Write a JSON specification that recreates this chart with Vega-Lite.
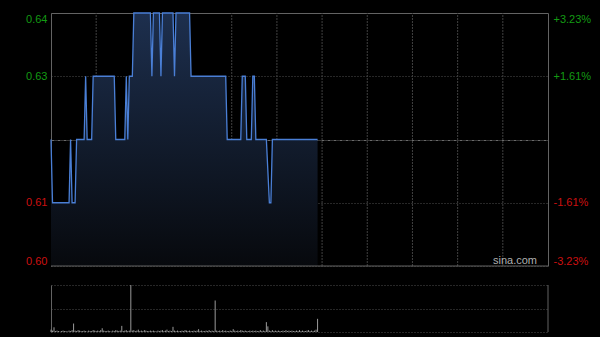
{
  "$schema": "https://vega.github.io/schema/vega-lite/v6.json",
  "width": 497,
  "height": 319,
  "autosize": {"type": "none"},
  "padding": {"left": 51, "top": 13, "right": 52, "bottom": 5},
  "background": "#000000",
  "config": {
    "view": {"stroke": null},
    "font": "Liberation Sans",
    "axis": {"labelFont": "Liberation Sans", "labelFontSize": 11}
  },
  "datasets": {
    "grid": [{"t": 30}, {"t": 60}, {"t": 90}, {"t": 120}, {"t": 150}, {"t": 180}, {"t": 210}, {"t": 240}, {"t": 270}, {"t": 300}],
    "price": [
      {"t": 0, "p": 0.62}, {"t": 1, "p": 0.61}, {"t": 12, "p": 0.61}, {"t": 13, "p": 0.62}, {"t": 14, "p": 0.61},
      {"t": 16, "p": 0.61}, {"t": 17, "p": 0.62}, {"t": 22, "p": 0.62}, {"t": 23, "p": 0.63}, {"t": 24, "p": 0.62},
      {"t": 27, "p": 0.62}, {"t": 28, "p": 0.63}, {"t": 42, "p": 0.63}, {"t": 43, "p": 0.62}, {"t": 49, "p": 0.62},
      {"t": 50, "p": 0.63}, {"t": 51, "p": 0.62}, {"t": 52, "p": 0.63}, {"t": 54, "p": 0.63}, {"t": 55, "p": 0.64},
      {"t": 66, "p": 0.64}, {"t": 67, "p": 0.63}, {"t": 68, "p": 0.64}, {"t": 72, "p": 0.64}, {"t": 73, "p": 0.63},
      {"t": 74, "p": 0.64}, {"t": 81, "p": 0.64}, {"t": 82, "p": 0.63}, {"t": 83, "p": 0.64}, {"t": 92, "p": 0.64},
      {"t": 93, "p": 0.63}, {"t": 116, "p": 0.63}, {"t": 117, "p": 0.62}, {"t": 126, "p": 0.62}, {"t": 127, "p": 0.63},
      {"t": 129, "p": 0.63}, {"t": 130, "p": 0.62}, {"t": 133, "p": 0.62}, {"t": 134, "p": 0.63}, {"t": 135, "p": 0.63},
      {"t": 136, "p": 0.62}, {"t": 143, "p": 0.62}, {"t": 145, "p": 0.61}, {"t": 146, "p": 0.61}, {"t": 147, "p": 0.62},
      {"t": 177, "p": 0.62}
    ],
    "vol": [
      {"t":0,"v":5},{"t":1,"v":3},{"t":2,"v":10},{"t":3,"v":2},{"t":4,"v":3},{"t":5,"v":2},{"t":6,"v":1},{"t":7,"v":2},{"t":8,"v":3},{"t":9,"v":2},
      {"t":10,"v":2},{"t":11,"v":1},{"t":12,"v":3},{"t":13,"v":2},{"t":14,"v":4},{"t":15,"v":18},{"t":16,"v":3},{"t":17,"v":2},{"t":18,"v":4},{"t":19,"v":3},
      {"t":20,"v":2},{"t":21,"v":2},{"t":22,"v":3},{"t":23,"v":2},{"t":24,"v":1},{"t":25,"v":3},{"t":26,"v":2},{"t":27,"v":2},{"t":28,"v":4},{"t":29,"v":3},
      {"t":30,"v":2},{"t":31,"v":3},{"t":32,"v":2},{"t":33,"v":4},{"t":34,"v":8},{"t":35,"v":3},{"t":36,"v":2},{"t":37,"v":2},{"t":38,"v":3},{"t":39,"v":2},
      {"t":40,"v":1},{"t":41,"v":3},{"t":42,"v":2},{"t":43,"v":4},{"t":44,"v":3},{"t":45,"v":2},{"t":46,"v":3},{"t":47,"v":13},{"t":48,"v":2},{"t":49,"v":3},
      {"t":50,"v":4},{"t":51,"v":2},{"t":52,"v":3},{"t":53,"v":100},{"t":54,"v":3},{"t":55,"v":4},{"t":56,"v":2},{"t":57,"v":3},{"t":58,"v":5},{"t":59,"v":2},
      {"t":60,"v":3},{"t":61,"v":2},{"t":62,"v":4},{"t":63,"v":3},{"t":64,"v":2},{"t":65,"v":2},{"t":66,"v":3},{"t":67,"v":2},{"t":68,"v":3},{"t":69,"v":2},
      {"t":70,"v":1},{"t":71,"v":3},{"t":72,"v":2},{"t":73,"v":3},{"t":74,"v":4},{"t":75,"v":2},{"t":76,"v":3},{"t":77,"v":5},{"t":78,"v":2},{"t":79,"v":3},
      {"t":80,"v":2},{"t":81,"v":11},{"t":82,"v":3},{"t":83,"v":2},{"t":84,"v":3},{"t":85,"v":2},{"t":86,"v":2},{"t":87,"v":3},{"t":88,"v":2},{"t":89,"v":4},
      {"t":90,"v":3},{"t":91,"v":2},{"t":92,"v":3},{"t":93,"v":2},{"t":94,"v":2},{"t":95,"v":3},{"t":96,"v":2},{"t":97,"v":3},{"t":98,"v":6},{"t":99,"v":2},
      {"t":100,"v":3},{"t":101,"v":2},{"t":102,"v":2},{"t":103,"v":3},{"t":104,"v":2},{"t":105,"v":4},{"t":106,"v":2},{"t":107,"v":3},{"t":108,"v":2},{"t":109,"v":67},
      {"t":110,"v":3},{"t":111,"v":2},{"t":112,"v":3},{"t":113,"v":2},{"t":114,"v":4},{"t":115,"v":2},{"t":116,"v":3},{"t":117,"v":2},{"t":118,"v":2},{"t":119,"v":3},
      {"t":120,"v":2},{"t":121,"v":6},{"t":122,"v":3},{"t":123,"v":2},{"t":124,"v":3},{"t":125,"v":2},{"t":126,"v":4},{"t":127,"v":3},{"t":128,"v":2},{"t":129,"v":3},
      {"t":130,"v":2},{"t":131,"v":2},{"t":132,"v":3},{"t":133,"v":2},{"t":134,"v":3},{"t":135,"v":2},{"t":136,"v":3},{"t":137,"v":2},{"t":138,"v":2},{"t":139,"v":4},
      {"t":140,"v":2},{"t":141,"v":3},{"t":142,"v":2},{"t":143,"v":21},{"t":144,"v":12},{"t":145,"v":3},{"t":146,"v":2},{"t":147,"v":4},{"t":148,"v":2},{"t":149,"v":3},
      {"t":150,"v":2},{"t":151,"v":3},{"t":152,"v":2},{"t":153,"v":2},{"t":154,"v":3},{"t":155,"v":2},{"t":156,"v":4},{"t":157,"v":2},{"t":158,"v":3},{"t":159,"v":2},
      {"t":160,"v":3},{"t":161,"v":2},{"t":162,"v":2},{"t":163,"v":3},{"t":164,"v":2},{"t":165,"v":4},{"t":166,"v":2},{"t":167,"v":3},{"t":168,"v":2},{"t":169,"v":2},
      {"t":170,"v":3},{"t":171,"v":4},{"t":172,"v":2},{"t":173,"v":3},{"t":174,"v":2},{"t":175,"v":3},{"t":176,"v":5},{"t":177,"v":28}
    ]
  },
  "resolve": {"scale": {"y": "independent"}, "axis": {"y": "independent"}},
  "layer": [
    {
      "layer": [
        {
          "data": {"name": "grid"},
          "mark": {"type": "rule", "color": "#404040", "strokeDash": [2, 1], "strokeWidth": 1},
          "encoding": {
            "x": {"field": "t", "type": "quantitative",
                  "scale": {"domain": [0, 330], "nice": false, "zero": false},
                  "axis": {"orient": "top", "labels": false, "ticks": false, "grid": false, "domain": true, "domainColor": "#636363", "title": null}},
            "y": {"datum": 0.60, "type": "quantitative",
                  "scale": {"domain": [0.60, 0.64], "range": [253, 0], "nice": false, "zero": false},
                  "axis": {"orient": "left", "values": [0.60, 0.61, 0.62, 0.63, 0.64],
                           "labelExpr": "abs(datum.value-0.62)<0.001 ? '' : format(datum.value, '.2f')",
                           "labelColor": {"condition": {"test": "datum.value > 0.62", "value": "#139a13"}, "value": "#cc1010"},
                           "ticks": false, "labelPadding": 4, "labelFlush": true,
                           "domain": true, "domainColor": "#636363",
                           "grid": true,
                           "gridColor": {"condition": {"test": "abs(datum.value-0.62)<0.001", "value": "#6a6a6a"}, "value": "#4e4e4e"},
                           "gridDash": {"condition": {"test": "abs(datum.value-0.62)<0.001", "value": [3, 1, 1, 1]}, "value": [1, 2]},
                           "title": null}},
            "y2": {"datum": 0.64}
          }
        },
        {
          "data": {"name": "price"},
          "mark": {"type": "area", "color": {"gradient": "linear", "x1": 0, "y1": 0, "x2": 0, "y2": 1,
                   "stops": [{"offset": 0, "color": "#1d2f4e"}, {"offset": 1, "color": "#07090d"}]}},
          "encoding": {
            "x": {"field": "t", "type": "quantitative"},
            "y": {"field": "p", "type": "quantitative"},
            "y2": {"datum": 0.60}
          }
        },
        {
          "data": {"name": "price"},
          "mark": {"type": "line", "color": "#4a7fd6", "strokeWidth": 1.3},
          "encoding": {
            "x": {"field": "t", "type": "quantitative"},
            "y": {"field": "p", "type": "quantitative"}
          }
        },
        {
          "data": {"values": [{}]},
          "mark": {"type": "rule", "color": "#636363", "strokeWidth": 1},
          "encoding": {
            "x": {"datum": 0, "type": "quantitative"},
            "x2": {"datum": 330},
            "y": {"datum": 0.60, "type": "quantitative"}
          }
        },
        {
          "data": {"values": [{"label": "sina.com"}]},
          "mark": {"type": "text", "align": "right", "baseline": "alphabetic", "dx": -11, "dy": -2, "fontSize": 11, "color": "#b0b0b0", "font": "Liberation Sans"},
          "encoding": {
            "x": {"datum": 330, "type": "quantitative"},
            "y": {"datum": 0.60, "type": "quantitative"},
            "text": {"field": "label"}
          }
        }
      ]
    },
    {
      "data": {"name": "price"},
      "mark": {"type": "line", "opacity": 0},
      "encoding": {
        "x": {"field": "t", "type": "quantitative"},
        "y": {"field": "p", "type": "quantitative",
              "scale": {"domain": [0.60, 0.64], "range": [253, 0], "nice": false, "zero": false},
              "axis": {"orient": "right", "values": [0.60, 0.61, 0.63, 0.64],
                       "labelExpr": "datum.value > 0.635 ? '+3.23%' : datum.value > 0.625 ? '+1.61%' : datum.value > 0.605 ? '-1.61%' : '-3.23%'",
                       "labelColor": {"condition": {"test": "datum.value > 0.62", "value": "#139a13"}, "value": "#cc1010"},
                       "ticks": false, "labelPadding": 5, "labelFlush": true,
                       "domain": true, "domainColor": "#636363", "grid": false, "title": null}}
      }
    },
    {
      "layer": [
        {
          "data": {"name": "vol"},
          "mark": {"type": "rule", "color": "#9a9a9a", "strokeWidth": 1},
          "encoding": {
            "x": {"field": "t", "type": "quantitative"},
            "y": {"field": "v", "type": "quantitative",
                  "scale": {"domain": [0, 100], "range": [319, 272], "nice": false},
                  "axis": {"orient": "left", "values": [0, 50, 100], "labels": false, "ticks": false,
                           "domain": true, "domainColor": "#636363", "grid": true, "gridColor": "#4e4e4e", "gridDash": [1, 2], "title": null}},
            "y2": {"datum": 0}
          }
        },
        {
          "data": {"values": [{}]},
          "mark": {"type": "rule", "color": "#636363", "strokeWidth": 1},
          "encoding": {
            "x": {"datum": 330, "type": "quantitative"},
            "y": {"datum": 0, "type": "quantitative"},
            "y2": {"datum": 100}
          }
        }
      ]
    }
  ]
}
